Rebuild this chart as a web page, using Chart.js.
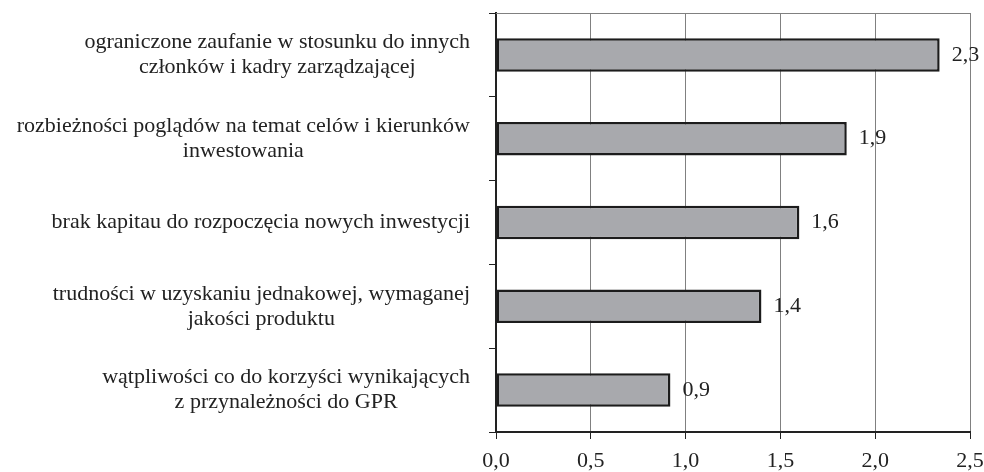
<!DOCTYPE html>
<html>
<head>
<meta charset="utf-8">
<script src="https://cdn.jsdelivr.net/npm/chart.js@4"></script>
<style>
  html, body { margin: 0; padding: 0; background: #fff; }
  #wrap { width: 984px; height: 472px; }
</style>
</head>
<body>
<div id="wrap"><canvas id="chart" width="984" height="472"></canvas></div>
<script>
const categories = [
  ["ograniczone zaufanie w stosunku do innych", "członków i kadry zarządzającej"],
  ["rozbieżności poglądów na temat celów i kierunków", "inwestowania"],
  ["brak kapitau do rozpoczęcia nowych inwestycji"],
  ["trudności w uzyskaniu jednakowej, wymaganej", "jakości produktu"],
  ["wątpliwości co do korzyści wynikających", "z przynależności do GPR"],
];
const values = [2.34, 1.85, 1.6, 1.4, 0.92];
const valueLabels = ["2,3", "1,9", "1,6", "1,4", "0,9"];
const xMin = 0;
const xMax = 2.5;
const xStep = 0.5;

const FONT = '"Liberation Serif", "Times New Roman", serif';
const TEXT = "#222";

// category labels: lines centred on each other, block right-aligned
const labelPlugin = {
  id: "labels",
  afterDraw(chart) {
    const { ctx, chartArea } = chart;
    const y = chart.scales.y;
    ctx.save();
    ctx.font = `22px ${FONT}`;
    ctx.fillStyle = TEXT;
    ctx.textBaseline = "middle";
    ctx.textAlign = "center";
    const lh = 25;
    categories.forEach((lines, i) => {
      const cy = y.getPixelForValue(i);
      const w = Math.max(...lines.map((l) => ctx.measureText(l).width));
      const cx = chartArea.left - 26 - w / 2;
      lines.forEach((l, j) => {
        ctx.fillText(l, cx, cy + (j - (lines.length - 1) / 2) * lh);
      });
    });

    // value labels
    const meta = chart.getDatasetMeta(0);
    ctx.textAlign = "left";
    meta.data.forEach((bar, i) => {
      ctx.fillText(valueLabels[i], bar.x + 12, bar.y);
    });

    // top border
    ctx.strokeStyle = "#808080";
    ctx.lineWidth = 1;
    ctx.beginPath();
    ctx.moveTo(chartArea.left, chartArea.top + 0.5);
    ctx.lineTo(chartArea.right, chartArea.top + 0.5);
    ctx.stroke();
    ctx.restore();
  },
};

new Chart(document.getElementById("chart"), {
  type: "bar",
  data: {
    labels: categories.map((c) => c.join(" ")),
    datasets: [
      {
        data: values,
        backgroundColor: "#a8a9ad",
        borderColor: "#1c1c1c",
        borderWidth: 2.5,
        borderSkipped: false,
        barPercentage: 0.4,
        categoryPercentage: 1,
      },
    ],
  },
  options: {
    indexAxis: "y",
    responsive: false,
    animation: false,
    layout: { padding: { top: 13, right: 14, left: 0, bottom: 0 } },
    plugins: { legend: { display: false }, tooltip: { enabled: false } },
    scales: {
      x: {
        min: xMin,
        max: xMax,
        afterFit: (s) => { s.height = 40; s.paddingLeft = 0; s.paddingRight = 0; },
        ticks: {
          stepSize: xStep,
          color: TEXT,
          font: { family: FONT, size: 22 },
          padding: 9,
          callback: (v) => v.toFixed(1).replace(".", ","),
        },
        grid: { color: "#808080", lineWidth: 1, tickColor: TEXT, tickLength: 7 },
        border: { color: TEXT, width: 2 },
      },
      y: {
        afterFit: (s) => { s.width = 496; s.paddingTop = 0; s.paddingBottom = 0; },
        ticks: { display: false },
        grid: { offset: true, drawOnChartArea: false, tickColor: TEXT, tickLength: 7 },
        border: { color: TEXT, width: 2 },
      },
    },
  },
  plugins: [labelPlugin],
});
</script>
</body>
</html>
